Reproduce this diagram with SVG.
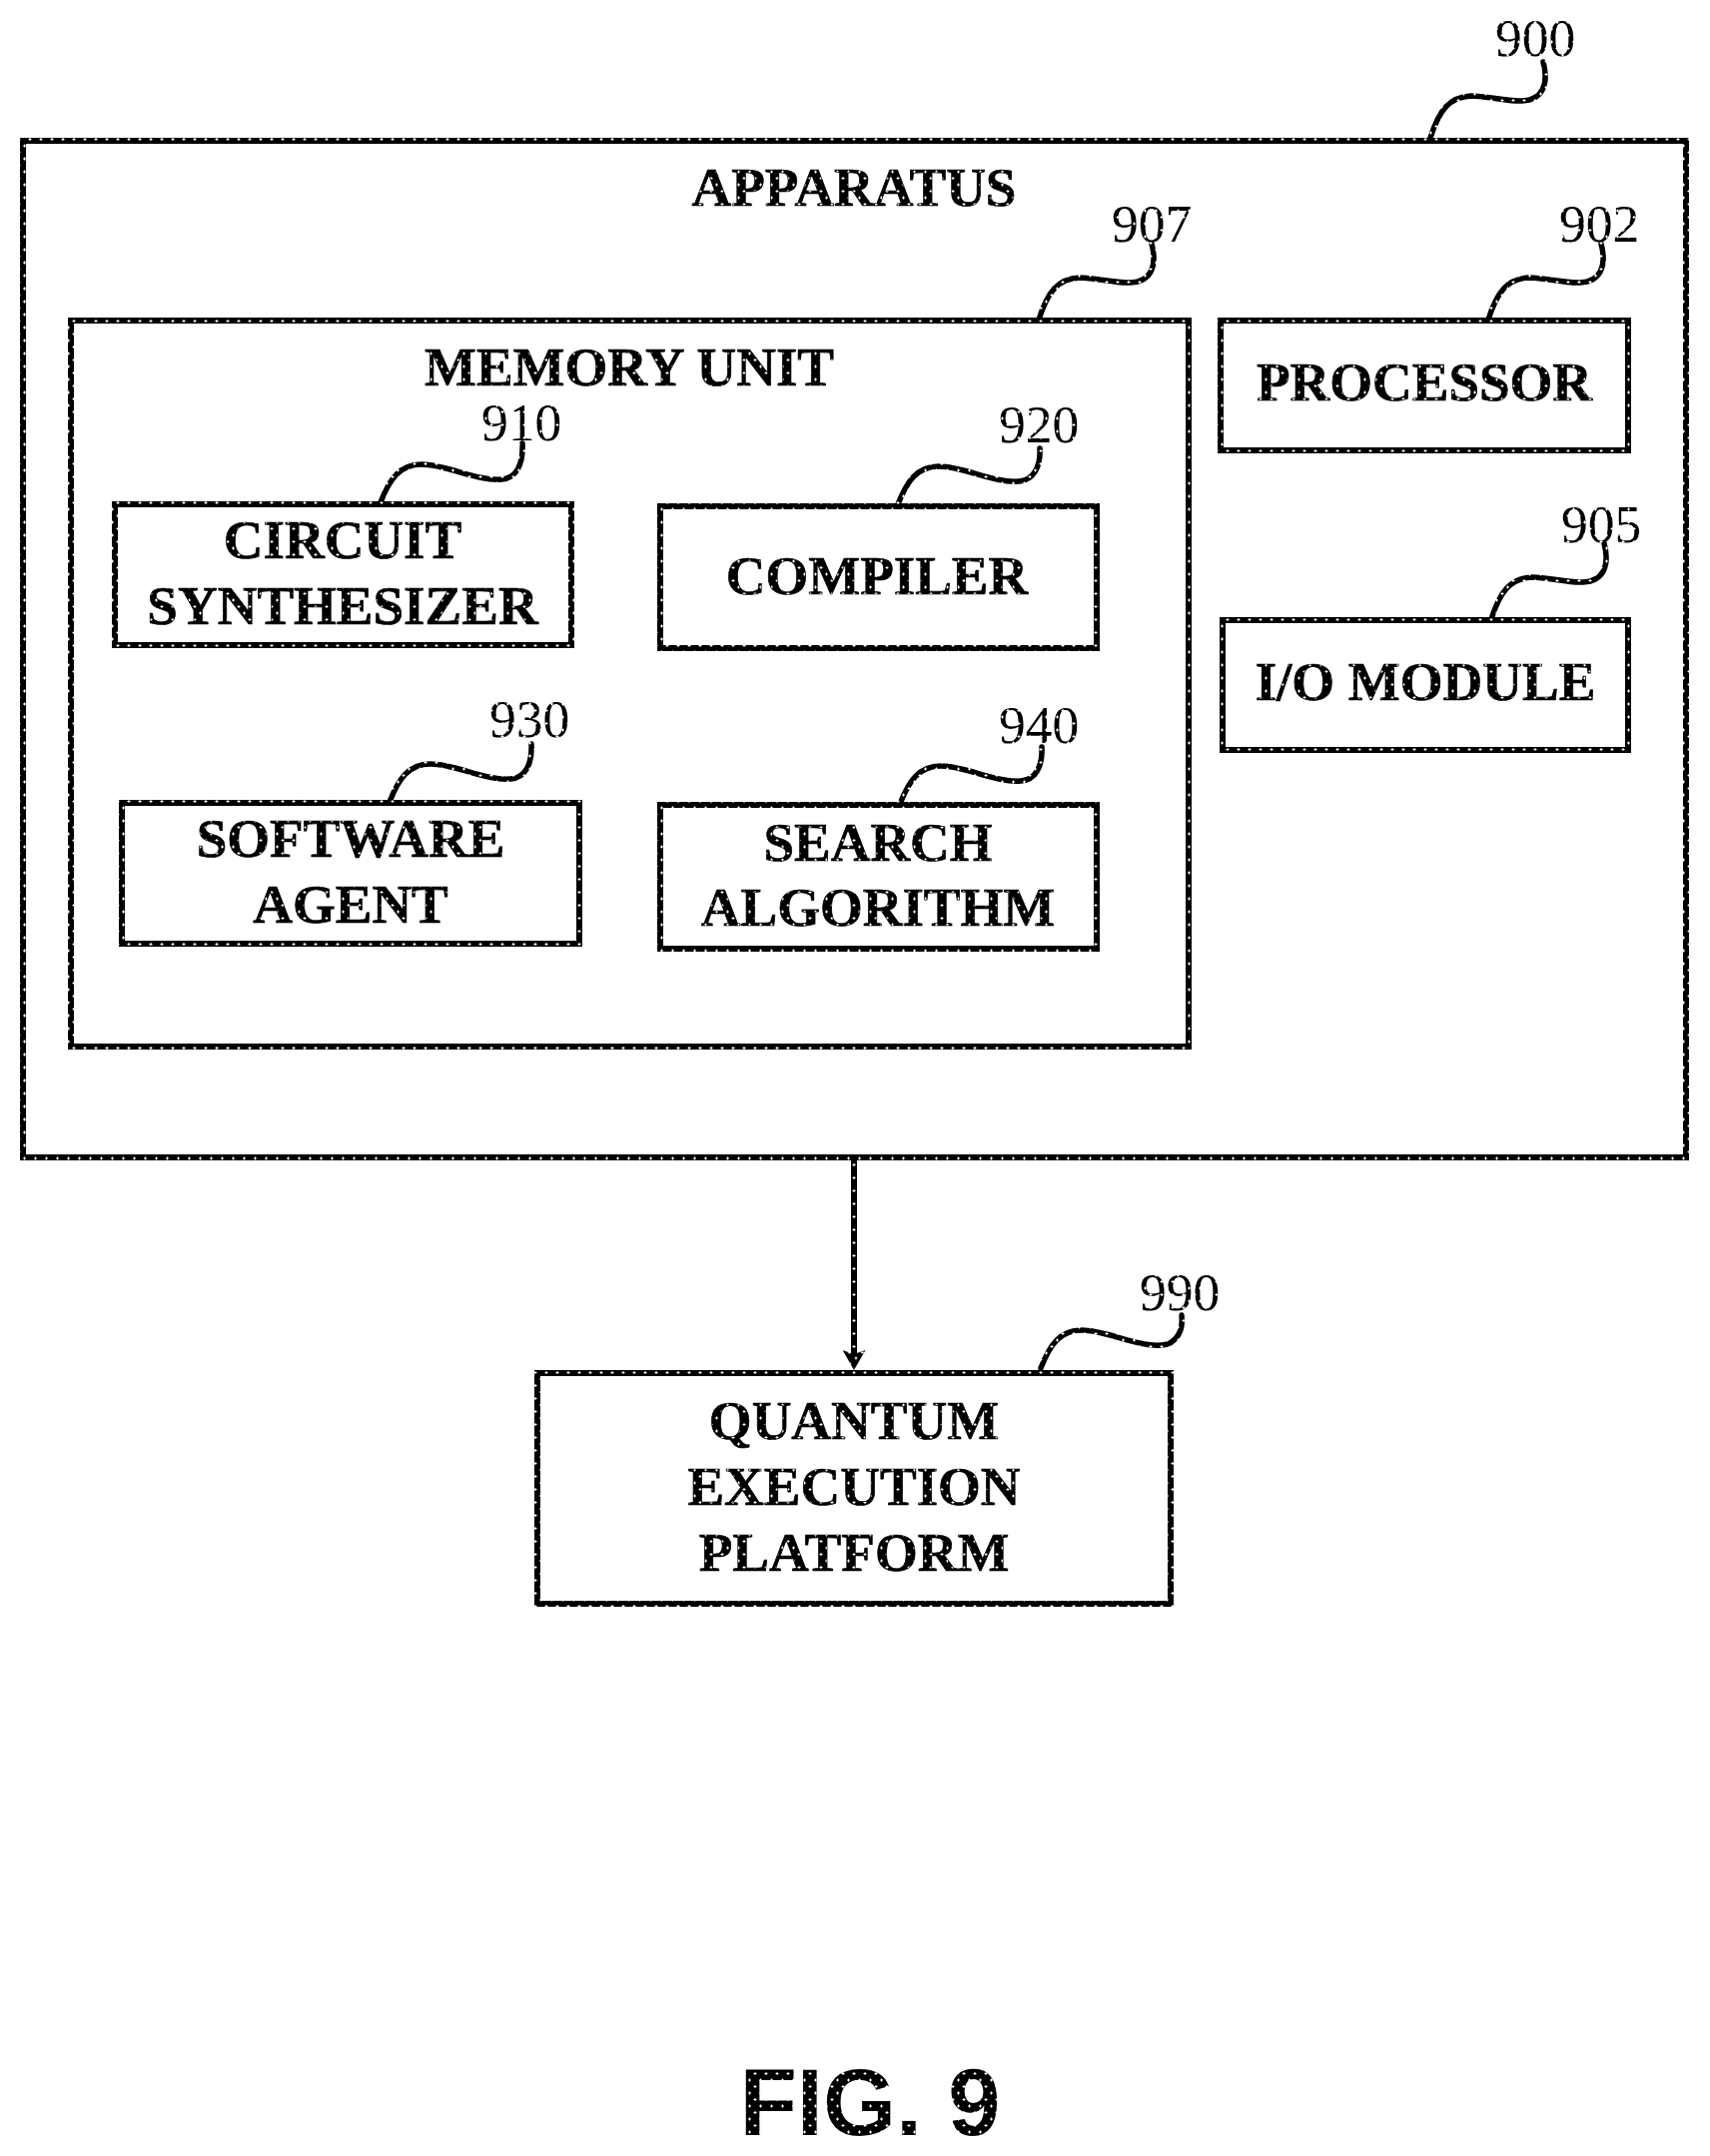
<svg xmlns="http://www.w3.org/2000/svg" width="1712" height="2159" viewBox="0 0 1712 2159">
<style>
.box{fill:none;stroke:url(#dot);stroke-width:6;shape-rendering:crispEdges}
.ln{fill:none;stroke:url(#dot);stroke-width:5.5;stroke-linecap:round}
.t{font-family:"Liberation Serif","Times New Roman",serif;font-weight:bold;font-size:55px;fill:url(#dot);stroke:#000;stroke-width:.7;text-anchor:middle}
.n{font-family:"Liberation Serif","Times New Roman",serif;font-size:53.5px;fill:url(#dot)}
.f{font-family:"Liberation Sans",Arial,sans-serif;font-weight:bold;font-size:94px;fill:url(#dot);text-anchor:middle}
</style>
<defs>
<pattern id="dot" patternUnits="userSpaceOnUse" width="11" height="13">
<rect width="11" height="13" fill="#000"/>
<path d="M1,2.5h3v1h-3zM2,1.5h1v3h-1zM6.5,9h3v1h-3zM7.5,8h1v3h-1z" fill="#fff"/>
</pattern>
<marker id="arrow" markerUnits="userSpaceOnUse" markerWidth="23" markerHeight="23" viewBox="0 0 21 23" refX="6" refY="11.5" orient="auto">
<path d="M0,0L20,11.5L0,23L4,11.5Z" fill="url(#dot)"/>
</marker>
</defs>
<rect width="1712" height="2159" fill="#fff"/>
<g id="apparatus"><rect class="box" x="23" y="141" width="1665" height="1018"/><text class="t" x="855" y="206">APPARATUS</text><text class="n" x="1497" y="56">900</text></g>
<g id="memory-unit"><rect class="box" x="71" y="321" width="1119" height="727"/><text class="t" x="630" y="386">MEMORY UNIT</text><text class="n" x="1113" y="242">907</text></g>
<g id="processor"><rect class="box" x="1222" y="321" width="408" height="130"/><text class="t" x="1426" y="401">PROCESSOR</text><text class="n" x="1561" y="242">902</text></g>
<g id="io-module"><rect class="box" x="1224" y="621" width="406" height="130"/><text class="t" x="1427" y="701">I/O MODULE</text><text class="n" x="1563" y="543">905</text></g>
<g id="circuit-synthesizer"><rect class="box" x="115" y="505" width="457" height="141"/><text class="t" x="343" y="559">CIRCUIT</text><text class="t" x="343" y="625">SYNTHESIZER</text><text class="n" x="482" y="441">910</text></g>
<g id="compiler"><rect class="box" x="661" y="507" width="437" height="142"/><text class="t" x="878" y="595">COMPILER</text><text class="n" x="1000" y="443">920</text></g>
<g id="software-agent"><rect class="box" x="122" y="804" width="458" height="141"/><text class="t" x="351" y="858">SOFTWARE</text><text class="t" x="351" y="924">AGENT</text><text class="n" x="490" y="738">930</text></g>
<g id="search-algorithm"><rect class="box" x="661" y="806" width="437" height="144"/><text class="t" x="879" y="862">SEARCH</text><text class="t" x="879" y="927">ALGORITHM</text><text class="n" x="1000" y="744">940</text></g>
<g id="quantum-execution-platform"><rect class="box" x="538" y="1375" width="634" height="231"/><text class="t" x="855" y="1441">QUANTUM</text><text class="t" x="855" y="1507">EXECUTION</text><text class="t" x="855" y="1573">PLATFORM</text><text class="n" x="1141" y="1312">990</text></g>
<g id="connectors">
<path class="ln" style="stroke-width:6" d="M855,1162V1358" marker-end="url(#arrow)"/>
<path class="ln" d="M1432,138c9,-28 19,-41 41,-42c16,0 36,6 51,5c20,-1 27,-16 21,-39"/>
<path class="ln" d="M1040,320c9,-28 19,-41 41,-42c16,0 36,6 51,5c20,-1 27,-16 21,-39"/>
<path class="ln" d="M1490,320c9,-28 19,-41 41,-42c16,0 36,6 51,5c20,-1 27,-16 21,-39"/>
<path class="ln" d="M1493,620c9,-28 19,-41 41,-42c16,0 36,6 51,5c20,-1 27,-16 21,-39"/>
<path class="ln" d="M381,503c9,-23 19,-38 41,-38c25,0 55,17 80,15c15,-1 22,-15 21,-36"/>
<path class="ln" d="M899,505c9,-23 19,-38 41,-38c25,0 55,17 80,15c15,-1 22,-15 21,-33"/>
<path class="ln" d="M390,803c9,-23 19,-38 41,-38c25,0 55,17 80,15c15,-1 22,-15 21,-35"/>
<path class="ln" d="M901,805c9,-23 19,-38 41,-38c25,0 55,17 80,15c15,-1 22,-15 21,-34"/>
<path class="ln" d="M1042,1370c9,-23 19,-38 41,-38c25,0 55,17 80,15c15,-1 22,-15 20,-30"/>
</g>
<text class="f" x="871" y="2138">FIG. 9</text>
</svg>
